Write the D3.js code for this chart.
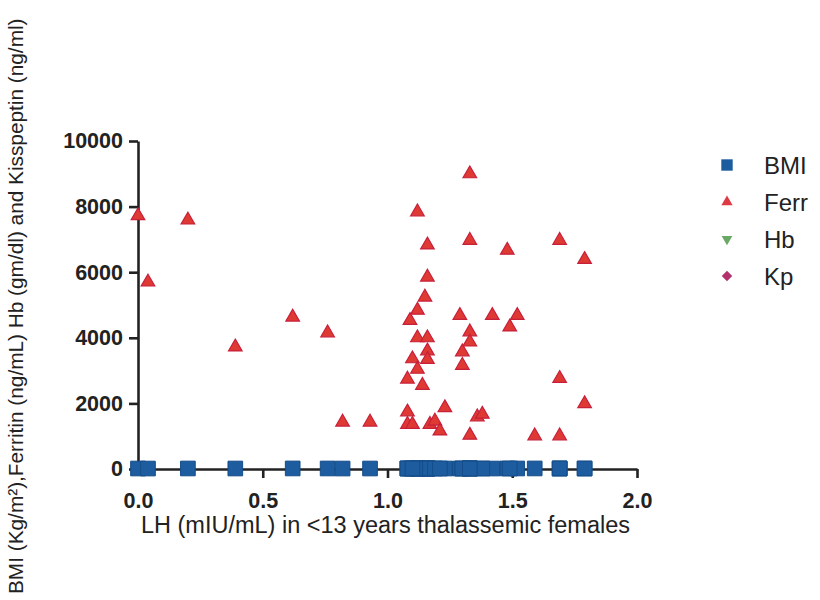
<!DOCTYPE html>
<html>
<head>
<meta charset="utf-8">
<script src="https://cdn.jsdelivr.net/npm/d3@7"></script>
<style>
  body { margin: 0; background: #fff; }
  svg text { font-family: "Liberation Sans", Arial, sans-serif; fill: #222; }
</style>
</head>
<body>
<div id="viz"></div>
<script>
// LH (mIU/mL) per subject, shared x for every series
const lh = [0.00, 0.04, 0.20, 0.39, 0.62, 0.76, 0.82, 0.93, 1.33, 1.12,
            1.16, 1.33, 1.48, 1.69, 1.79, 1.16, 1.15, 1.12, 1.09, 1.29,
            1.42, 1.52, 1.49, 1.33, 1.33, 1.12, 1.16, 1.16, 1.16, 1.10,
            1.12, 1.30, 1.30, 1.08, 1.14, 1.69, 1.79, 1.23, 1.08, 1.08,
            1.10, 1.17, 1.19, 1.21, 1.36, 1.38, 1.33, 1.59, 1.69];
const ferr = [7750, 5730, 7620, 3750, 4660, 4180, 1460, 1460, 9030, 7870,
              6860, 7000, 6700, 7000, 6420, 5880, 5270, 4870, 4560, 4710,
              4710, 4710, 4360, 4210, 3900, 4030, 4030, 3630, 3370, 3390,
              3070, 3600, 3190, 2770, 2580, 2790, 2020, 1900, 1770, 1390,
              1390, 1390, 1490, 1190, 1620, 1700, 1060, 1040, 1040];
const bmi = [15, 14, 16, 15, 17, 16, 14, 15, 18, 16,
             15, 17, 16, 15, 14, 16, 17, 15, 16, 15,
             14, 16, 15, 17, 16, 15, 14, 16, 15, 17,
             16, 15, 14, 16, 15, 17, 16, 15, 14, 16,
             15, 17, 16, 15, 14, 16, 15, 17, 16];
const hb = [9, 8, 10, 9, 8, 9, 10, 8, 9, 9,
            8, 10, 9, 8, 9, 10, 9, 8, 9, 10,
            9, 8, 9, 10, 9, 8, 9, 10, 9, 8,
            9, 10, 9, 8, 9, 10, 9, 8, 9, 10,
            9, 8, 9, 10, 9, 8, 9, 10, 9];
const kp = [2, 3, 2, 4, 3, 2, 3, 4, 2, 3,
            2, 3, 4, 2, 3, 2, 4, 3, 2, 3,
            4, 2, 3, 2, 3, 4, 2, 3, 2, 3,
            4, 2, 3, 2, 3, 4, 2, 3, 2, 3,
            4, 2, 3, 2, 3, 4, 2, 3, 2];
const xTicks = [0, 0.5, 1.0, 1.5, 2.0];
const yTicks = [0, 2000, 4000, 6000, 8000, 10000];
const seriesNames = ["BMI", "Ferr", "Hb", "Kp"];

const width = 820;
const height = 600;

const svg = d3.select("#viz")
    .append("svg")
    .attr("width", width)
    .attr("height", height);

const xScale = d3.scaleLinear().domain([0, 2]).range([138, 637]);
const yScale = d3.scaleLinear().domain([0, 10000]).range([469, 141]);

// axes
const yAxis = svg.append("g")
    .attr("transform", `translate(${xScale(0)},0)`)
    .call(d3.axisLeft(yScale).tickValues(yTicks).tickSize(9).tickSizeOuter(0)
        .tickPadding(6).tickFormat(d3.format("d")));
const xAxis = svg.append("g")
    .attr("transform", `translate(0,${yScale(0)})`)
    .call(d3.axisBottom(xScale).tickValues(xTicks).tickSize(9).tickSizeOuter(0)
        .tickPadding(15).tickFormat(d3.format(".1f")));

[xAxis, yAxis].forEach(a => {
    a.select(".domain").attr("stroke", "#222").attr("stroke-width", 2.6);
    a.selectAll(".tick line").attr("stroke", "#222").attr("stroke-width", 2.6);
    a.selectAll(".tick text")
        .attr("font-family", "Liberation Sans, Arial, sans-serif")
        .attr("font-weight", "bold")
        .attr("font-size", 21.5)
        .attr("fill", "#222");
});
xAxis.selectAll(".tick").filter(d => d === 0).select("line").remove();

// markers
const tri = d3.symbol().type(d3.symbolTriangle);
const sq = d3.symbol().type(d3.symbolSquare);

const pts = lh.map((x, i) => ({x, ferr: ferr[i], bmi: bmi[i], hb: hb[i], kp: kp[i]}));

svg.append("g").selectAll("path").data(pts).enter().append("path")
    .attr("d", sq.size(40)())
    .attr("transform", d => `translate(${xScale(d.x)},${yScale(d.kp)}) rotate(45)`)
    .attr("fill", "#b3316c");
svg.append("g").selectAll("path").data(pts).enter().append("path")
    .attr("d", tri.size(50)())
    .attr("transform", d => `translate(${xScale(d.x)},${yScale(d.hb)}) rotate(180)`)
    .attr("fill", "#5b9e57");
svg.append("g").selectAll("path").data(pts).enter().append("path")
    .attr("d", tri.size(80)())
    .attr("transform", d => `translate(${xScale(d.x)},${yScale(d.ferr) + 1})`)
    .attr("fill", "#de3a33")
    .attr("stroke", "#c81f3a")
    .attr("stroke-width", 1.2);
svg.append("g").selectAll("path").data(pts).enter().append("path")
    .attr("d", sq.size(215)())
    .attr("transform", d => `translate(${xScale(d.x)},${yScale(d.bmi)})`)
    .attr("fill", "#1c5c9f")
    .attr("stroke", "#154d8a")
    .attr("stroke-width", 1);

// legend
const legendSym = [
    {d: sq.size(130)(), fill: "#1c5c9f", rot: 0},
    {d: tri.size(55)(), fill: "#de3a45", rot: 0},
    {d: tri.size(50)(), fill: "#6aa866", rot: 180},
    {d: sq.size(55)(), fill: "#b3316c", rot: 45}
];
const legend = svg.append("g").attr("transform", "translate(727,165)");
const item = legend.selectAll("g").data(seriesNames).enter().append("g")
    .attr("transform", (d, i) => `translate(0,${i * 37})`);
item.append("path")
    .attr("d", (d, i) => legendSym[i].d)
    .attr("transform", (d, i) => `rotate(${legendSym[i].rot})`)
    .attr("fill", (d, i) => legendSym[i].fill);
item.append("text")
    .attr("x", 37)
    .attr("dy", "0.36em")
    .attr("font-size", 24)
    .text(d => d);

// axis titles
svg.append("text")
    .attr("x", (xScale(0) + xScale(2)) / 2 - 2)
    .attr("y", 533)
    .attr("text-anchor", "middle")
    .attr("font-size", 23.5)
    .text("LH (mIU/mL) in <13 years thalassemic females");

svg.append("text")
    .attr("transform", "translate(23,594) rotate(-90)")
    .attr("font-size", 20.8)
    .text("BMI (Kg/m²),Ferritin (ng/mL) Hb (gm/dl) and Kisspeptin (ng/ml)");
</script>
</body>
</html>
